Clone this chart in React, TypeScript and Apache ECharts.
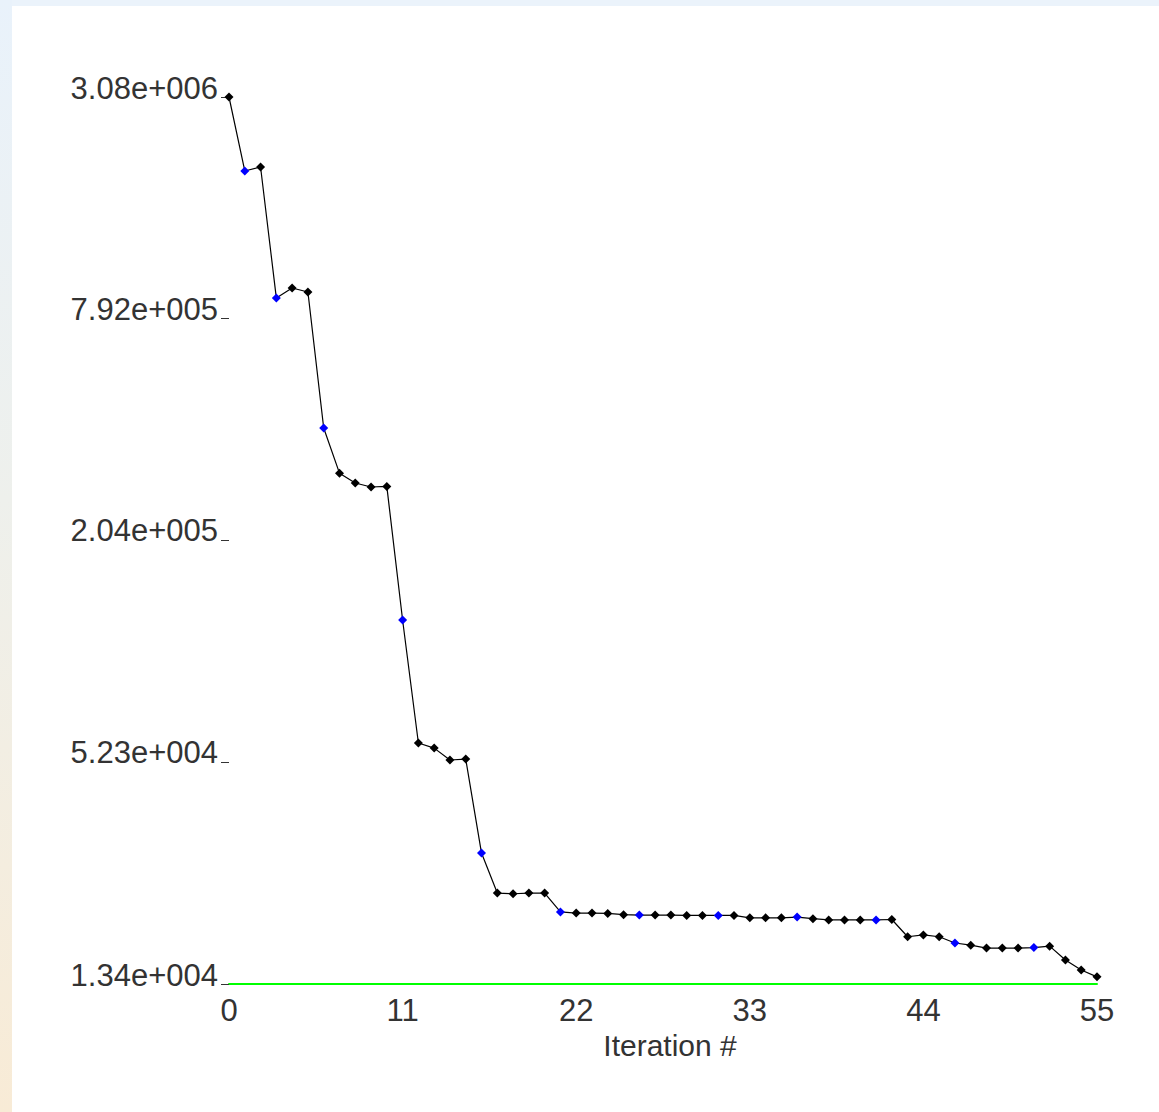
import React, { useEffect, useRef } from "react";
import * as echarts from "echarts";

// Iteration numbers 0..55
const iterations: number[] = [
  0, 1, 2, 3, 4, 5, 6, 7, 8, 9, 10, 11, 12, 13, 14, 15, 16, 17, 18, 19, 20,
  21, 22, 23, 24, 25, 26, 27, 28, 29, 30, 31, 32, 33, 34, 35, 36, 37, 38, 39,
  40, 41, 42, 43, 44, 45, 46, 47, 48, 49, 50, 51, 52, 53, 54, 55,
];

// Objective values (log scale)
const objective: number[] = [
  3.08e6, 1.957e6, 2.005e6, 8.98e5, 9.55e5, 9.32e5, 4.05e5, 3.07e5, 2.89e5,
  2.82e5, 2.83e5, 1.248e5, 5.87e4, 5.69e4, 5.29e4, 5.32e4, 2.99e4, 2.34e4,
  2.33e4, 2.34e4, 2.34e4, 2.084e4, 2.07e4, 2.07e4, 2.065e4, 2.05e4, 2.045e4,
  2.045e4, 2.045e4, 2.04e4, 2.04e4, 2.04e4, 2.04e4, 2.01e4, 2.01e4, 2.01e4,
  2.02e4, 2.0e4, 1.985e4, 1.985e4, 1.985e4, 1.985e4, 1.99e4, 1.79e4, 1.81e4,
  1.79e4, 1.723e4, 1.70e4, 1.67e4, 1.67e4, 1.67e4, 1.675e4, 1.69e4, 1.552e4,
  1.46e4, 1.40e4,
];

// Iterations drawn with a blue marker
const blueIterations: number[] = [1, 3, 6, 11, 16, 21, 26, 31, 36, 41, 46, 51];

// Axis ticks
const yTicks: number[] = [1.34e4, 5.23e4, 2.04e5, 7.92e5, 3.08e6];
const xTicks: number[] = [0, 11, 22, 33, 44, 55];

const fmtSci = (v: number): string => {
  const e = Math.floor(Math.log10(v) + 1e-9);
  let mStr = (v / Math.pow(10, e)).toFixed(2);
  let exp = e;
  if (parseFloat(mStr) >= 10) {
    exp += 1;
    mStr = (v / Math.pow(10, exp)).toFixed(2);
  }
  const sign = exp < 0 ? "-" : "+";
  const a = Math.abs(exp).toString().padStart(3, "0");
  return `${mStr}e${sign}${a}`;
};

const FONT = "'Liberation Sans', Arial, sans-serif";

export default function App() {
  const ref = useRef<HTMLDivElement>(null);

  useEffect(() => {
    document.body.style.margin = "0";
    if (!ref.current) return;
    const chart = echarts.init(ref.current, undefined, { renderer: "svg" });
    const data = iterations.map((it, i) => {
      const blue = blueIterations.indexOf(it) >= 0;
      return {
        value: [it, objective[i]],
        itemStyle: { color: blue ? "#0000ff" : "#000000" },
      };
    });
    chart.setOption({
      animation: false,
      backgroundColor: "#ffffff",
      grid: { left: 217, right: 62, top: 91, bottom: 128, containLabel: false },
      xAxis: {
        type: "value",
        min: 0,
        max: 55,
        interval: 11,
        name: "Iteration #",
        nameLocation: "middle",
        nameGap: 40,
        nameTextStyle: {
          fontFamily: FONT,
          fontSize: 30,
          color: "#333",
          padding: [0, 0, 0, 14],
        },
        axisLine: { show: true, onZero: false, lineStyle: { color: "#00ff00", width: 2 } },
        axisTick: { show: false },
        splitLine: { show: false },
        axisLabel: {
          fontFamily: FONT,
          fontSize: 31,
          color: "#333",
          margin: 11,
          customValues: xTicks,
        },
      },
      yAxis: {
        type: "log",
        logBase: 10,
        min: yTicks[0],
        max: yTicks[yTicks.length - 1],
        axisLine: { show: false },
        splitLine: { show: false },
        axisTick: {
          show: true,
          length: 8,
          customValues: yTicks,
          lineStyle: { color: "#333", width: 1 },
        },
        axisLabel: {
          fontFamily: FONT,
          fontSize: 31,
          color: "#333",
          margin: 11,
          customValues: yTicks,
          verticalAlign: "bottom",
          lineHeight: 18,
          formatter: (v: number) => fmtSci(v),
        },
      },
      series: [
        {
          type: "line",
          data,
          clip: false,
          symbol: "diamond",
          symbolSize: 9,
          lineStyle: { color: "#000000", width: 1.2 },
          itemStyle: { color: "#000000" },
        },
      ],
    });
    return () => chart.dispose();
  }, []);

  return (
    <div
      style={{
        position: "fixed",
        left: 0,
        top: 0,
        width: 1159,
        height: 1112,
        background: "linear-gradient(to bottom, #e9f2fb 0%, #eef0ec 45%, #f8ebd6 100%)",
      }}
    >
      <div style={{ position: "absolute", left: 12, top: 0, width: 1147, height: 6, background: "#ebf3fb" }} />
      <div
        ref={ref}
        style={{ position: "absolute", left: 12, top: 6, width: 1147, height: 1106, background: "#fff" }}
      />
    </div>
  );
}
